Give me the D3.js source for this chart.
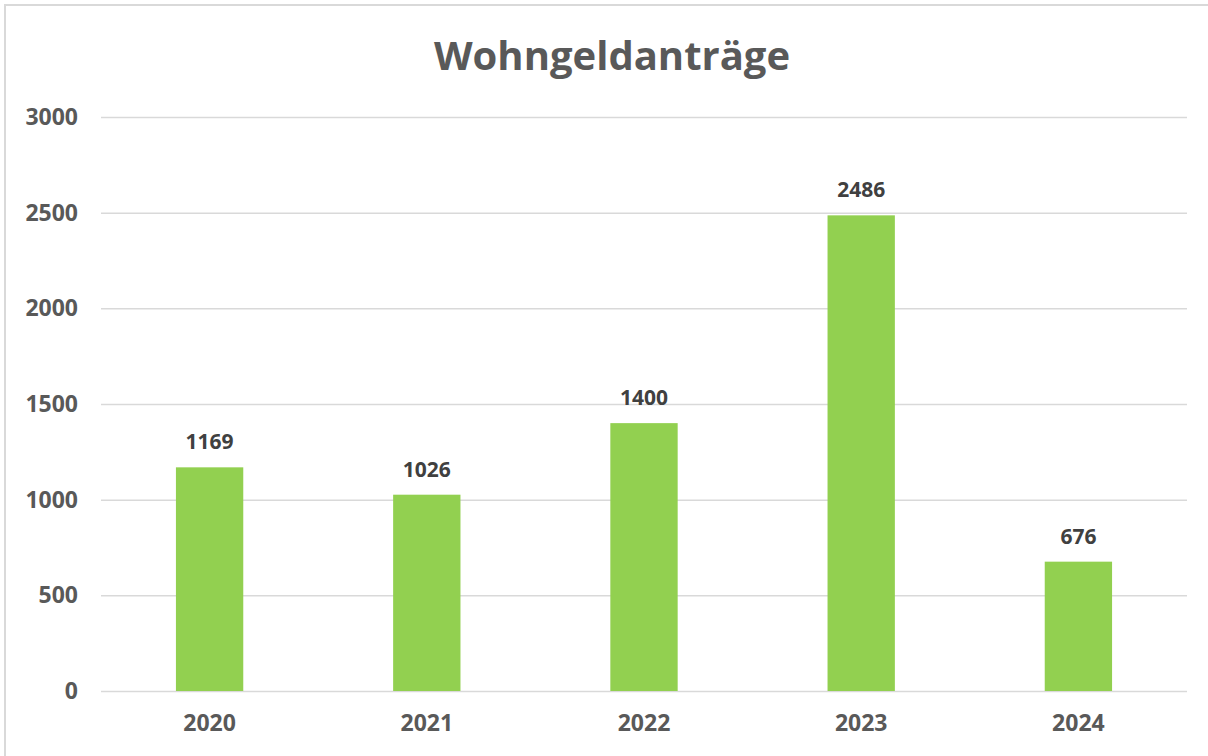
<!DOCTYPE html>
<html>
<head>
<meta charset="utf-8">
<script src="https://cdn.jsdelivr.net/npm/d3@7"></script>
<style>
  body { margin: 0; background: #fff; }
  svg { display: block; font-family: "Open Sans", sans-serif; }
</style>
</head>
<body>
<svg id="chart"></svg>
<script>
const years = ['2020', '2021', '2022', '2023', '2024'];
const applications = [1169, 1026, 1400, 2486, 676];
const yTicks = [0, 500, 1000, 1500, 2000, 2500, 3000];

const width = 1208;
const height = 756;
const margin = { top: 117, right: 21, bottom: 65, left: 101 };

const svg = d3.select('#chart').attr('width', width).attr('height', height);

// chart frame
svg.append('rect')
    .attr('x', 5).attr('y', 5)
    .attr('width', width + 10).attr('height', height + 10)
    .attr('fill', '#fff')
    .attr('stroke', '#d9d9d9')
    .attr('stroke-width', 2);

const x = d3.scaleBand()
    .domain(years)
    .range([margin.left, width - margin.right])
    .paddingInner(0.69)
    .paddingOuter(0.345);

const y = d3.scaleLinear()
    .domain([0, 3000])
    .range([height - margin.bottom, margin.top]);

// gridlines + y labels
const yAxis = svg.append('g')
    .attr('transform', `translate(${margin.left},0)`)
    .call(d3.axisLeft(y).tickValues(yTicks).tickFormat(d3.format('d'))
        .tickSize(-(width - margin.left - margin.right)).tickPadding(23));
yAxis.select('.domain').remove();
yAxis.selectAll('.tick line').attr('stroke', '#d9d9d9').attr('stroke-width', 1.5);
yAxis.selectAll('.tick text')
    .attr('fill', '#595959')
    .style('font-size', '23px')
    .style('font-weight', 'bold')
    .style('font-family', '"Open Sans", sans-serif');

// x labels
const xAxis = svg.append('g')
    .attr('transform', `translate(0,${height - margin.bottom})`)
    .call(d3.axisBottom(x).tickSize(0).tickPadding(24));
xAxis.select('.domain').remove();
xAxis.selectAll('.tick text')
    .attr('fill', '#595959')
    .style('font-size', '23px')
    .style('font-weight', 'bold')
    .style('font-family', '"Open Sans", sans-serif');

const data = years.map((yr, i) => ({ year: yr, value: applications[i] }));

svg.selectAll('.bar')
    .data(data)
    .enter()
    .append('rect')
    .attr('class', 'bar')
    .attr('x', d => x(d.year))
    .attr('y', d => y(d.value))
    .attr('width', x.bandwidth())
    .attr('height', d => y(0) - y(d.value))
    .attr('fill', '#92d050');

svg.selectAll('.label')
    .data(data)
    .enter()
    .append('text')
    .attr('class', 'label')
    .attr('x', d => x(d.year) + x.bandwidth() / 2)
    .attr('y', d => y(d.value) - 18)
    .attr('text-anchor', 'middle')
    .attr('fill', '#404040')
    .style('font-size', '21px')
    .style('font-weight', 'bold')
    .text(d => d.value);

svg.append('text')
    .attr('x', 612)
    .attr('y', 70)
    .attr('text-anchor', 'middle')
    .attr('fill', '#595959')
    .style('font-size', '40px')
    .style('font-weight', 'bold')
    .text('Wohngeldanträge');
</script>
</body>
</html>
